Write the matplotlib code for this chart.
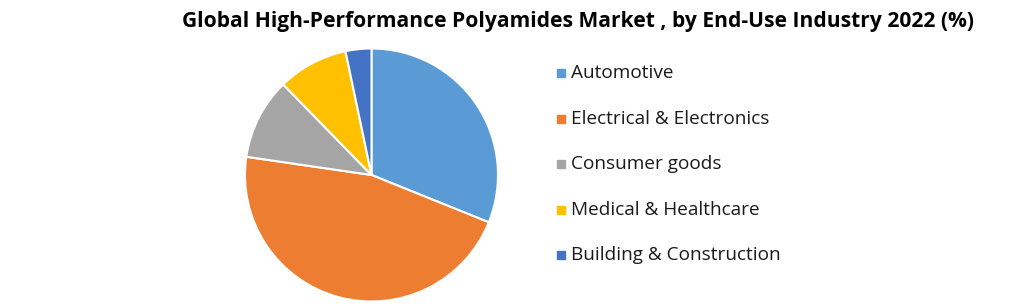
import matplotlib
matplotlib.use("Agg")
import matplotlib.pyplot as plt

categories = ["Automotive", "Electrical & Electronics", "Consumer goods",
              "Medical & Healthcare", "Building & Construction"]
shares = [31.1, 46.2, 10.4, 9.0, 3.3]
colors = ["#5B9BD5", "#ED7D31", "#A5A5A5", "#FFC000", "#4472C4"]
title = "Global High-Performance Polyamides Market , by End-Use Industry 2022 (%)"

plt.rcParams['font.family'] = ['Open Sans', 'DejaVu Sans']

W, H = 1021, 304
fig = plt.figure(figsize=(W / 100, H / 100), dpi=100)
fig.patch.set_facecolor("white")

cx, cy, r = 371.5, 175, 126.5
ax = fig.add_axes([(cx - r) / W, (H - cy - r) / H, 2 * r / W, 2 * r / H])
ax.pie(shares, colors=colors, startangle=90, counterclock=False, radius=1,
       wedgeprops=dict(edgecolor="white", linewidth=1.5))
ax.set_xlim(-1, 1)
ax.set_ylim(-1, 1)
ax.set_aspect("equal")
ax.axis("off")

fig.text(578 / W, 1 - 21 / H, title, ha="center", va="center",
         fontsize=15.1, fontweight="bold", color="black")

rows_y = [73, 119, 164, 210, 255]
for lab, col, yy in zip(categories, colors, rows_y):
    fig.patches.append(plt.Rectangle((557 / W, 1 - (yy + 4) / H), 8 / W, 8 / H,
                                     transform=fig.transFigure, color=col))
    fig.text(571 / W, 1 - yy / H, lab, ha="left", va="center",
             fontsize=13.7, color="#1a1a1a")

fig.savefig("out.png", dpi=100)
